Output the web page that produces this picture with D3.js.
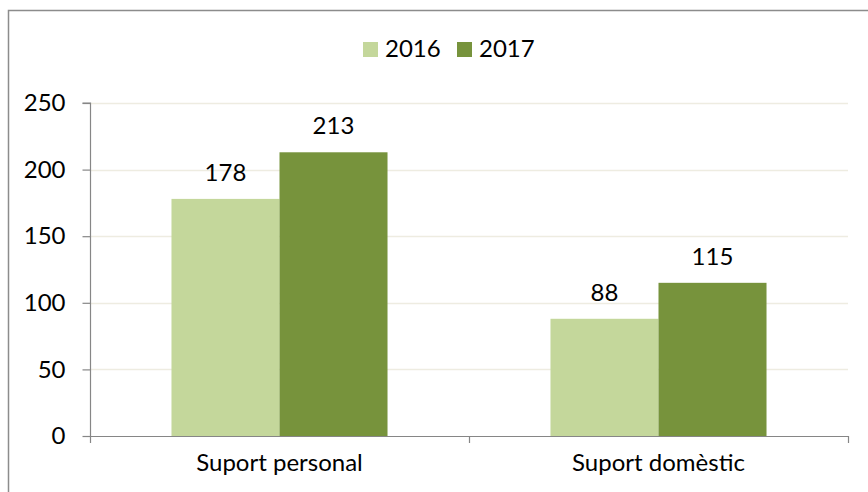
<!DOCTYPE html>
<html><head><meta charset="utf-8">
<script src="https://cdn.jsdelivr.net/npm/d3@7"></script>
<style>body{margin:0;background:#fff;} svg{display:block;font-family:Lato, "Open Sans", sans-serif;}</style>
</head><body>
<svg id="c" width="868" height="492"></svg>
<script>
const categories = ["Suport personal", "Suport domèstic"];
const seriesNames = ["2016", "2017"];
const values2016 = [178, 88];
const values2017 = [213, 115];
const yTicks = [0, 50, 100, 150, 200, 250];
const colors = ["#c4d79b", "#77933c"];

const svg = d3.select("#c");
const FS = 24;
const x0 = d3.scaleBand().domain(categories).range([90, 848]).paddingInner(0.43).paddingOuter(0.215);
const x1 = d3.scaleBand().domain(seriesNames).range([0, x0.bandwidth()]);
const y = d3.scaleLinear().domain([0, 250]).range([436, 103]);

// frame
svg.append("rect").attr("x", 8.5).attr("y", 10.5).attr("width", 900).attr("height", 600)
  .attr("fill", "none").attr("stroke", "#8c8c8c").attr("stroke-width", 1.5);

// gridlines
svg.append("g").selectAll("line").data(yTicks.filter(d => d > 0)).join("line")
  .attr("x1", 90).attr("x2", 848).attr("y1", d => Math.round(y(d)) + 0.5).attr("y2", d => Math.round(y(d)) + 0.5)
  .attr("stroke", "#eeece1").attr("stroke-width", 1.5);

// bars
const data = categories.map((c, i) => ({cat: c, vals: [values2016[i], values2017[i]]}));
const g = svg.append("g").selectAll("g").data(data).join("g")
  .attr("transform", d => `translate(${x0(d.cat)},0)`);
g.selectAll("rect").data(d => d.vals.map((v, j) => ({v, s: seriesNames[j], j}))).join("rect")
  .attr("x", d => x1(d.s)).attr("width", x1.bandwidth())
  .attr("y", d => y(d.v)).attr("height", d => y(0) - y(d.v))
  .attr("fill", d => colors[d.j]);
g.selectAll("text").data(d => d.vals.map((v, j) => ({v, s: seriesNames[j]}))).join("text")
  .attr("x", d => x1(d.s) + x1.bandwidth() / 2).attr("y", d => y(d.v) - 18)
  .attr("text-anchor", "middle").attr("font-size", FS).attr("fill", "#000").text(d => d.v);

// y axis
const yAxis = d3.axisLeft(y).tickValues(yTicks).tickSize(8).tickPadding(17);
const ya = svg.append("g").attr("transform", "translate(90.5,0)").call(yAxis);
ya.select(".domain").attr("stroke", "#868686").attr("stroke-width", 1.2).attr("d", "M-8,103H0V436");
ya.selectAll(".tick line").attr("stroke", "#868686").attr("stroke-width", 1.2);
ya.selectAll(".tick text").attr("font-size", FS).attr("fill", "#000").attr("font-family", "Lato, sans-serif");

// x axis
const xTickPos = [90, 469, 848];
svg.append("line").attr("x1", 90).attr("x2", 848).attr("y1", 436.5).attr("y2", 436.5).attr("stroke", "#868686").attr("stroke-width", 1.2);
svg.append("g").selectAll("line").data(xTickPos).join("line")
  .attr("x1", d => d + 0.5).attr("x2", d => d + 0.5).attr("y1", 436).attr("y2", 443)
  .attr("stroke", "#868686").attr("stroke-width", 1.2);
svg.append("g").selectAll("text").data(categories).join("text")
  .attr("x", d => x0(d) + x0.bandwidth() / 2).attr("y", 471)
  .attr("text-anchor", "middle").attr("font-size", FS).attr("fill", "#000").text(d => d);

// legend
const leg = svg.append("g");
const legX = [363, 457];
seriesNames.forEach((s, i) => {
  leg.append("rect").attr("x", legX[i]).attr("y", 42).attr("width", 15).attr("height", 15).attr("fill", colors[i]);
  leg.append("text").attr("x", legX[i] + 22).attr("y", 57).attr("font-size", FS).attr("fill", "#000").text(s);
});
</script>
</body></html>
